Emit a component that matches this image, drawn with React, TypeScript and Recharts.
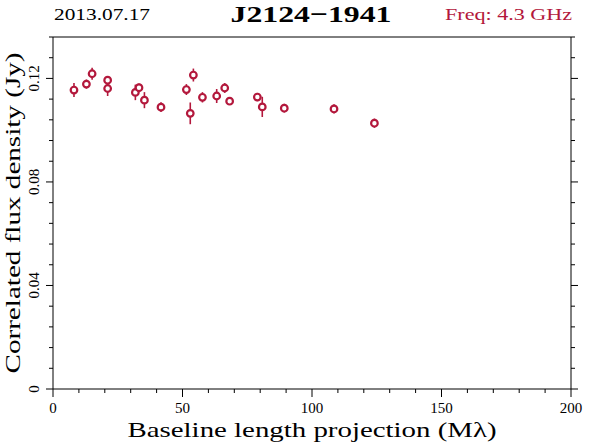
import React from "react";
import { ScatterChart, Scatter, XAxis, YAxis, ErrorBar } from "recharts";

// ---- data ----
const baselines = [8.1, 12.9, 15.1, 21.1, 21.1, 31.8, 33.2, 35.3, 41.7, 51.5, 53.0, 54.2, 57.7, 63.2, 66.3, 68.2, 78.9, 80.8, 89.3, 108.5, 124.1];
const fluxes = [0.1155, 0.1178, 0.1218, 0.1193, 0.1161, 0.1146, 0.1164, 0.1116, 0.1089, 0.1157, 0.1065, 0.1213, 0.1127, 0.1132, 0.1163, 0.1112, 0.1128, 0.109, 0.1085, 0.1082, 0.1027];
const fluxErrors = [0.0027, 0.0018, 0.0023, 0.0014, 0.0029, 0.003, 0.0016, 0.0031, 0.0019, 0.0021, 0.0042, 0.0025, 0.002, 0.0027, 0.0019, 0.0012, 0.0016, 0.0039, 0.0017, 0.0018, 0.0018];

const xMajorTicks = [0, 50, 100, 150, 200];
const xTickLabels = ["0", "50", "100", "150", "200"];
const xMinorTicks = [10, 20, 30, 40, 60, 70, 80, 90, 110, 120, 130, 140, 160, 170, 180, 190];
const yMajorTicks = [0, 0.04, 0.08, 0.12];
const yTickLabels = ["0", "0.04", "0.08", "0.12"];
const yMinorTicks = [0.008, 0.016, 0.024, 0.032, 0.048, 0.056, 0.064, 0.072, 0.088, 0.096, 0.104, 0.112, 0.128, 0.136];

const dateText = "2013.07.17";
const titleText = "J2124\u22121941";
const freqText = "Freq: 4.3 GHz";
const xTitle = "Baseline length projection (M\u03bb)";
const yTitle = "Correlated flux density (Jy)";

const points = baselines.map((b, i) => ({ x: b, y: fluxes[i], err: fluxErrors[i] }));
const xAllTicks = [...xMajorTicks, ...xMinorTicks].sort((a, b) => a - b);
const yAllTicks = [...yMajorTicks, ...yMinorTicks].sort((a, b) => a - b);

const RED = "#b3183c";
const FONT = "'Liberation Serif', 'DejaVu Serif', serif";

const W = 590;
const H = 443;
const M = { top: 36, left: 52, right: 18, bottom: 53 };
const X_DOMAIN: [number, number] = [0, 200];
const Y_DOMAIN: [number, number] = [0, 0.136];
const MAJ = 8;
const MIN = 4;

const isMajorX = (v: number) => xMajorTicks.indexOf(v) >= 0;
const isMajorY = (v: number) => yMajorTicks.some((m) => Math.abs(m - v) < 1e-9);

const makeXTick = (dir: number, withLabel: boolean) => (props: any) => {
  const { x, y, payload } = props;
  const major = isMajorX(payload.value);
  const len = major ? MAJ : MIN;
  const i = xMajorTicks.indexOf(payload.value);
  return (
    <g>
      <line x1={x} x2={x} y1={y} y2={y + dir * len} stroke="#000" strokeWidth={1} />
      {withLabel && major ? (
        <text x={x} y={y + 24} textAnchor="middle" fontSize={15} fontFamily={FONT} fill="#000">
          {xTickLabels[i]}
        </text>
      ) : null}
    </g>
  );
};

const makeYTick = (dir: number, withLabel: boolean) => (props: any) => {
  const { x, y, payload } = props;
  const major = isMajorY(payload.value);
  const len = major ? 7 : MIN;
  const i = yMajorTicks.findIndex((m) => Math.abs(m - payload.value) < 1e-9);
  const tx = x - 14;
  return (
    <g>
      <line x1={x} x2={x + dir * len} y1={y} y2={y} stroke="#000" strokeWidth={1} />
      {withLabel && major ? (
        <text x={tx} y={y} transform={`rotate(-90, ${tx}, ${y})`} textAnchor="middle" fontSize={15} fontFamily={FONT} fill="#000">
          {yTickLabels[i]}
        </text>
      ) : null}
    </g>
  );
};

const BottomTick = makeXTick(1, true);
const TopTick = makeXTick(-1, false);
const LeftTick = makeYTick(-1, true);
const RightTick = makeYTick(1, false);

const Marker = (props: any) => {
  const { cx, cy } = props;
  return <circle cx={cx} cy={cy} r={3.3} fill="#fff" stroke={RED} strokeWidth={2.2} />;
};

const axisStroke = { stroke: "#000", strokeWidth: 1 };

export default function App() {
  return (
    <div style={{ position: "absolute", left: 0, top: 0, width: W, height: H, background: "#fff" }}>
      <ScatterChart width={W} height={H} margin={M}>
        <XAxis xAxisId="b" type="number" dataKey="x" domain={X_DOMAIN} ticks={xAllTicks} tickSize={0} tickMargin={0} height={1} orientation="bottom" axisLine={axisStroke} tickLine={false} tick={BottomTick} interval={0} allowDataOverflow />
        <XAxis xAxisId="t" type="number" domain={X_DOMAIN} ticks={xAllTicks} tickSize={0} tickMargin={0} height={1} orientation="top" axisLine={axisStroke} tickLine={false} tick={TopTick} interval={0} allowDataOverflow />
        <YAxis yAxisId="l" type="number" dataKey="y" domain={Y_DOMAIN} ticks={yAllTicks} tickSize={0} tickMargin={0} width={1} orientation="left" axisLine={axisStroke} tickLine={false} tick={LeftTick} interval={0} allowDataOverflow />
        <YAxis yAxisId="r" type="number" domain={Y_DOMAIN} ticks={yAllTicks} tickSize={0} tickMargin={0} width={1} orientation="right" axisLine={axisStroke} tickLine={false} tick={RightTick} interval={0} allowDataOverflow />
        <Scatter data={points} xAxisId="b" yAxisId="l" shape={<Marker />} isAnimationActive={false}>
          <ErrorBar dataKey="err" direction="y" width={0} stroke={RED} strokeWidth={1.6} />
        </Scatter>
      </ScatterChart>
      <svg width={W} height={H} style={{ position: "absolute", left: 0, top: 0, pointerEvents: "none" }}>
        <text x={54} y={20} fontSize={16} fontFamily={FONT} fill="#000" textLength={96} lengthAdjust="spacingAndGlyphs">{dateText}</text>
        <text x={311} y={22} fontSize={24} fontWeight="bold" fontFamily={FONT} fill="#000" textAnchor="middle" textLength={161} lengthAdjust="spacingAndGlyphs">{titleText}</text>
        <text x={572} y={20} fontSize={16} fontFamily={FONT} fill={RED} textAnchor="end" textLength={127} lengthAdjust="spacingAndGlyphs">{freqText}</text>
        <text x={312} y={437} fontSize={21} fontFamily={FONT} fill="#000" textAnchor="middle" textLength={369} lengthAdjust="spacingAndGlyphs">{xTitle}</text>
        <text x={20} y={213} transform="rotate(-90, 20, 213)" fontSize={21} fontFamily={FONT} fill="#000" textAnchor="middle" textLength={321} lengthAdjust="spacingAndGlyphs">{yTitle}</text>
      </svg>
    </div>
  );
}
